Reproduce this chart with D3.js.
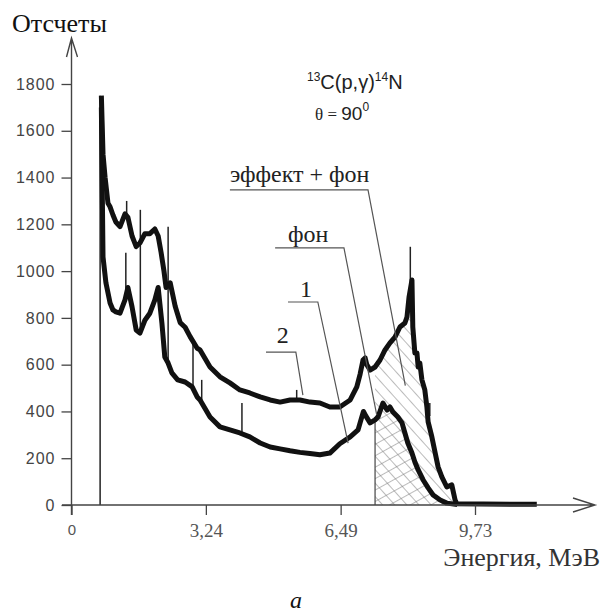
<!DOCTYPE html>
<html>
<head>
<meta charset="utf-8">
<script src="https://cdn.jsdelivr.net/npm/d3@7"></script>
<style>
  body { margin: 0; background: #fff; }
  svg { display: block; }
  .serif { font-family: "Liberation Serif", "Times New Roman", serif; }
  .sans { font-family: "Liberation Sans", Arial, sans-serif; }
</style>
</head>
<body>
<svg width="602" height="616"></svg>
<script>
// tick values of the two axes
var energyTicks = [0, 3.24, 6.49, 9.73];
var energyMinor = [1.62, 4.87, 8.11];
var countTicks = [0, 200, 400, 600, 800, 1000, 1200, 1400, 1600, 1800];
var countMinor = [100, 300, 500, 700, 900, 1100, 1300, 1500, 1700];

// spectrum 2 (upper, effect + background): [energy MeV, counts]
var upperCurve = [[0.72,1750],[0.76,1500],[0.81,1400],[0.88,1290],[0.93,1275],[1.00,1240],[1.07,1210],
  [1.17,1190],[1.29,1245],[1.36,1230],[1.46,1150],[1.56,1105],[1.65,1120],[1.77,1160],[1.89,1160],
  [2.01,1180],[2.09,1150],[2.16,1080],[2.23,1000],[2.28,930],[2.38,950],[2.50,850],[2.62,780],
  [2.74,760],[2.86,720],[3.03,670],[3.10,663],[3.34,590],[3.58,548],[3.82,522],[4.06,492],
  [4.30,479],[4.55,462],[4.79,449],[5.03,440],[5.27,449],[5.51,449],[5.75,440],[5.99,436],
  [6.23,419],[6.47,419],[6.72,449],[6.88,505],[6.96,560],[7.03,620],[7.08,629],[7.12,600],
  [7.20,577],[7.32,590],[7.44,620],[7.56,663],[7.68,693],[7.80,718],[7.92,761],[8.04,778],
  [8.09,804],[8.14,890],[8.21,962],[8.23,761],[8.28,650],[8.33,650],[8.36,590],[8.40,607],
  [8.45,535],[8.52,492],[8.57,419],[8.60,355],[8.69,291],[8.77,222],[8.84,163],[8.93,120],
  [9.05,77],[9.17,86],[9.25,21],[9.29,5],[11.22,3]];

// spectrum 1 (lower, background)
var lowerCurve = [[0.72,1700],[0.76,1060],[0.83,950],[0.93,864],[1.00,834],[1.07,826],[1.17,820],
  [1.29,877],[1.36,930],[1.46,847],[1.56,748],[1.65,735],[1.77,790],[1.89,820],[2.01,877],
  [2.09,930],[2.18,778],[2.25,633],[2.33,607],[2.42,565],[2.56,535],[2.74,526],[2.91,505],
  [3.03,462],[3.10,449],[3.34,376],[3.58,334],[3.82,321],[4.06,308],[4.30,291],[4.55,265],
  [4.79,248],[5.03,240],[5.27,232],[5.51,225],[5.75,220],[5.99,215],[6.23,222],[6.47,262],
  [6.72,291],[6.91,321],[6.98,364],[7.04,400],[7.10,380],[7.20,351],[7.32,364],[7.39,376],
  [7.51,436],[7.61,406],[7.68,419],[7.75,398],[7.87,376],[7.97,351],[8.04,308],[8.11,265],
  [8.21,222],[8.28,184],[8.36,150],[8.48,107],[8.60,73],[8.72,43],[8.89,21],[9.05,8],[9.30,2]];

// narrow single-channel spikes: [energy, from, to]
var spikes = [[0.69,0,1750],[1.31,877,1078],[1.33,1230,1300],[1.66,735,1262],[2.33,607,1190],
  [2.93,505,693],[3.14,449,535],[4.11,300,436],[5.43,449,492],[8.17,890,1104],[8.64,380,436],[9.17,60,86]];

var hatchFrom = 7.32;

// annotation labels: text anchor, elbow start, elbow, end (energy, counts)
var notes = [
  {text: "эффект + фон", at: [3.82, 1381], from: [3.82, 1347], knee: [7.15, 1347], to: [8.05, 510]},
  {text: "фон", at: [5.22, 1125], from: [4.91, 1099], knee: [6.57, 1099], to: [7.36, 385]},
  {text: "1", at: [5.51, 890], from: [5.22, 868], knee: [5.94, 868], to: [6.67, 265]},
  {text: "2", at: [4.95, 693], from: [4.69, 654], knee: [5.41, 654], to: [5.58, 470]}
];

var svg = d3.select("svg");

var x = d3.scaleLinear().domain([0, 9.73]).range([71.5, 475]);
var y = d3.scaleLinear().domain([0, 1800]).range([505, 84]);

var defs = svg.append("defs");
function hatch(id, angle, gap) {
  var p = defs.append("pattern")
      .attr("id", id)
      .attr("patternUnits", "userSpaceOnUse")
      .attr("width", gap).attr("height", gap)
      .attr("patternTransform", "rotate(" + angle + ")");
  p.append("line")
      .attr("x1", 0).attr("y1", 0).attr("x2", 0).attr("y2", gap)
      .attr("stroke", "#777").attr("stroke-width", 1);
}
hatch("back", -42, 9);
hatch("fwd", 61, 10);

var area = d3.area()
    .x(function(d) { return x(d[0]); })
    .y0(y(0))
    .y1(function(d) { return y(d[1]); });

var tail = function(c) { return c.filter(function(d) { return d[0] >= hatchFrom; }); };

svg.append("path").attr("d", area(tail(upperCurve))).attr("fill", "url(#back)");
svg.append("path").attr("d", area(tail(lowerCurve))).attr("fill", "url(#fwd)");

svg.append("line")
    .attr("x1", x(hatchFrom)).attr("x2", x(hatchFrom))
    .attr("y1", y(0)).attr("y2", y(364))
    .attr("stroke", "#444").attr("stroke-width", 1.2);

var line = d3.line()
    .x(function(d) { return x(d[0]); })
    .y(function(d) { return y(d[1]); });

svg.selectAll(".spike")
    .data(spikes)
    .enter().append("line")
    .attr("class", "spike")
    .attr("x1", function(d) { return x(d[0]); })
    .attr("x2", function(d) { return x(d[0]); })
    .attr("y1", function(d) { return y(d[1]); })
    .attr("y2", function(d) { return y(d[2]); })
    .attr("stroke", "#222").attr("stroke-width", 1.5);

[upperCurve, lowerCurve].forEach(function(c) {
  svg.append("path")
      .attr("d", line(c))
      .attr("fill", "none")
      .attr("stroke", "#111")
      .attr("stroke-width", 5)
      .attr("stroke-linejoin", "round");
});

// y axis
var axisColor = "#444";
var gy = svg.append("g").attr("transform", "translate(" + x(0) + ",0)");
gy.call(d3.axisLeft(y).tickValues(countMinor).tickSize(5).tickFormat(""));
gy.call(d3.axisLeft(y).tickValues(countTicks).tickSize(10).tickPadding(6).tickFormat(d3.format("d")));
gy.selectAll(".domain").remove();
gy.selectAll("line").attr("stroke", axisColor).attr("stroke-width", 1.3);
gy.selectAll("text")
    .attr("class", "sans")
    .style("font-size", "16px")
    .style("letter-spacing", "1px")
    .attr("fill", "#444");

// x axis
var gx = svg.append("g").attr("transform", "translate(0," + y(0) + ")");
gx.call(d3.axisBottom(x).tickValues(energyMinor).tickSize(6).tickFormat(""));
gx.call(d3.axisBottom(x).tickValues(energyTicks).tickSize(10).tickPadding(9)
    .tickFormat(function(d) { return d === 0 ? "0" : d3.format(".2f")(d).replace(".", ","); }));
gx.selectAll(".domain").remove();
gx.selectAll("line").attr("stroke", axisColor).attr("stroke-width", 1.3);
gx.selectAll("text")
    .attr("class", function(d) { return d === 0 ? "sans" : "serif"; })
    .style("font-size", function(d) { return d === 0 ? "15px" : "19px"; })
    .attr("fill", "#555");

// axis lines with open arrows
var axes = svg.append("g").attr("stroke", axisColor).attr("stroke-width", 1.4).attr("fill", "none");
axes.append("path").attr("d", "M" + x(0) + "," + (y(0) + 10) + "V38 M" + (x(0) - 5) + ",57 L" + x(0) + ",38 L" + (x(0) + 6) + ",57");
axes.append("path").attr("d", "M62," + y(0) + "H595 M573," + (y(0) - 7) + " L595," + y(0) + " L573," + (y(0) + 7));

// axis titles
svg.append("text").attr("class", "serif").attr("x", 12).attr("y", 32)
    .style("font-size", "26px").attr("fill", "#111").text("Отсчеты");
svg.append("text").attr("class", "serif").attr("x", 600).attr("y", 566)
    .attr("text-anchor", "end").style("font-size", "26px").attr("fill", "#333").text("Энергия, МэВ");
svg.append("text").attr("class", "serif").attr("x", 296).attr("y", 608)
    .attr("text-anchor", "middle").style("font-size", "24px").style("font-style", "italic")
    .attr("fill", "#111").text("a");

// reaction label
var r = svg.append("text").attr("class", "sans").attr("x", 307).attr("y", 89)
    .style("font-size", "20px").attr("fill", "#222");
r.append("tspan").attr("dy", -8).style("font-size", "12px").text("13");
r.append("tspan").attr("dy", 8).text("C(p,γ)");
r.append("tspan").attr("dy", -8).style("font-size", "12px").text("14");
r.append("tspan").attr("dy", 8).text("N");
var t = svg.append("text").attr("class", "sans").attr("x", 315).attr("y", 120)
    .style("font-size", "19px").attr("fill", "#222");
t.append("tspan").attr("class", "serif").style("font-size", "17px").text("θ = ");
t.append("tspan").text("90");
t.append("tspan").attr("dy", -9).style("font-size", "12px").text("0");

// leader lines
var ng = svg.selectAll(".note").data(notes).enter().append("g").attr("class", "note");
ng.append("path")
    .attr("d", function(d) { return line([d.from, d.knee, d.to]); })
    .attr("fill", "none").attr("stroke", "#555").attr("stroke-width", 1.2);
ng.append("text")
    .attr("class", "serif")
    .attr("x", function(d) { return x(d.at[0]); })
    .attr("y", function(d) { return y(d.at[1]); })
    .style("font-size", "24px").attr("fill", "#222")
    .text(function(d) { return d.text; });
</script>
</body>
</html>
